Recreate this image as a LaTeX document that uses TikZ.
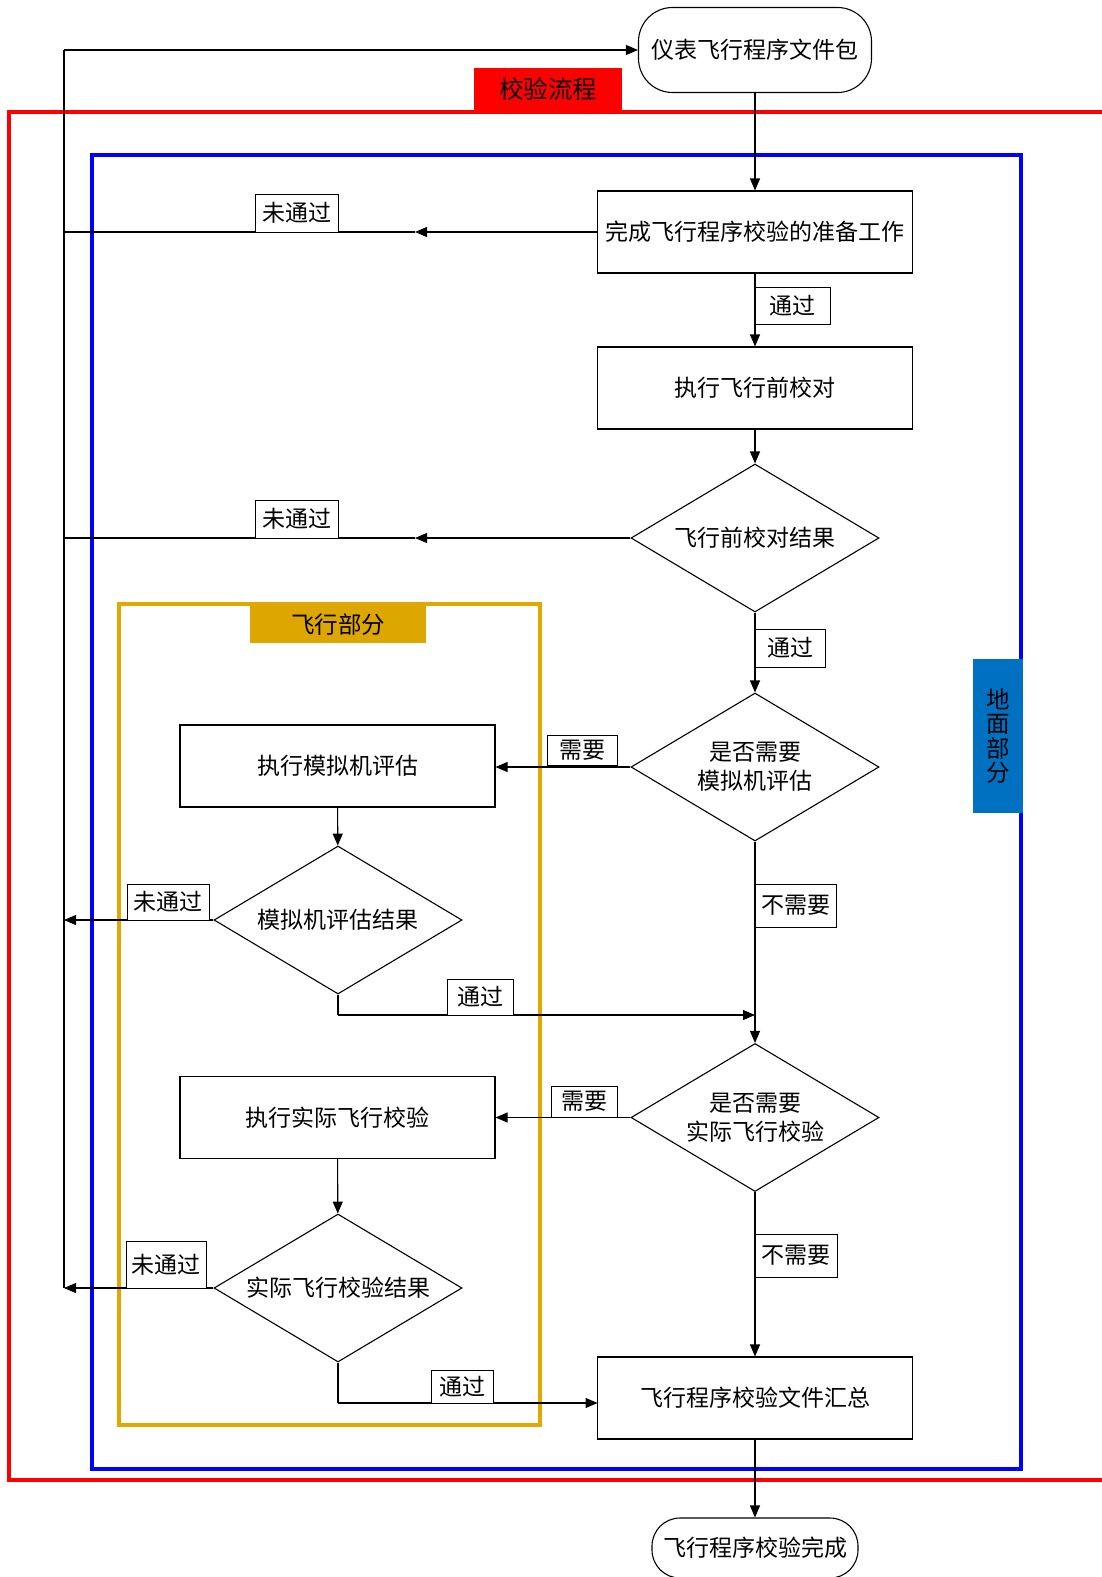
\documentclass[tikz,border=0pt]{standalone}
\usepackage{fontspec}
\setmainfont{Noto Sans CJK SC}
\usetikzlibrary{shapes.geometric,arrows.meta}
\definecolor{framered}{RGB}{255,0,0}
\definecolor{frameblue}{RGB}{0,0,255}
\definecolor{frameyellow}{RGB}{224,168,0}
\definecolor{labelyellow}{RGB}{221,166,0}
\definecolor{labelblue}{RGB}{0,112,192}
\tikzset{
  x=1pt, y=-1pt,
  every node/.style={font=\fontsize{23}{29}\selectfont},
  term/.style={draw, line width=1.1pt, rounded corners=34pt, minimum width=233pt, minimum height=85pt, inner sep=0pt, fill=white},
  procbox/.style={draw, line width=1.1pt, minimum width=315pt, minimum height=82pt, inner sep=0pt, fill=white},
  decide/.style={draw, diamond, line width=1.1pt, aspect=1.676, minimum width=248pt, minimum height=148pt, inner sep=0pt, fill=white, align=center},
  lab/.style={draw, line width=1pt, fill=white, inner sep=0pt, minimum height=37pt},
  arr/.style={line width=1.1pt, -{Triangle[length=12pt,width=10pt]}},
  ln/.style={line width=1.1pt},
  frame/.style={line width=4pt},
}
\begin{document}
\begin{tikzpicture}
\useasboundingbox (0,0) rectangle (1102,1577);

% frames
\draw[frame, framered] (1110,112) -- (9,112) -- (9,1480) -- (1110,1480);
\draw[frame, frameblue] (92,155) rectangle (1021,1469);
\draw[line width=3.5pt, frameyellow] (119,604) rectangle (540,1425);

% title labels
\node[fill=framered, minimum width=148pt, minimum height=43pt, inner sep=0pt, font=\fontsize{24.5}{28}\selectfont] (tRed) at (548,89.5) {校验流程};
\node[fill=labelyellow, minimum width=176pt, minimum height=37pt, inner sep=0pt, font=\fontsize{23.5}{28}\selectfont] (tYel) at (338,624.5) {飞行部分};
\node[fill=labelblue, minimum width=50pt, minimum height=154pt, inner sep=0pt, align=center, font=\fontsize{23.5}{24.5}\selectfont] (tBlue) at (998,736) {地\\面\\部\\分};

% nodes
\node[term] (start) at (755,50) {仪表飞行程序文件包};
\node[procbox] (prep) at (755,232) {完成飞行程序校验的准备工作};
\node[procbox] (pre) at (755,388) {执行飞行前校对};
\node[decide] (dpre) at (755,538) {飞行前校对结果};
\node[decide] (dsim) at (755,767) {是否需要\\模拟机评估};
\node[procbox] (sim) at (337.5,766) {执行模拟机评估};
\node[decide] (rsim) at (338,920) {模拟机评估结果};
\node[decide] (dfly) at (755,1117.5) {是否需要\\实际飞行校验};
\node[procbox] (fly) at (337.5,1117.5) {执行实际飞行校验};
\node[decide] (rfly) at (338,1288) {实际飞行校验结果};
\node[procbox] (sum) at (755,1398) {飞行程序校验文件汇总};
\node[term, minimum height=60pt, rounded corners=28pt, minimum width=206pt] (end) at (755,1548) {飞行程序校验完成};

% coordinates
\coordinate (lt) at (64,50);
\coordinate (lb) at (64,1288);
\coordinate (m1) at (415,232);
\coordinate (m1l) at (64,232);
\coordinate (m2) at (415,538);
\coordinate (m2l) at (64,538);
\coordinate (s1) at (64,920);
\coordinate (j1) at (338,1015);
\coordinate (j2) at (755,1015);
\coordinate (j3) at (338,1403);
\coordinate (j4) at (597.5,1403);

% connectors
\draw[ln] (lb) -- (lt);
\draw[arr] (lt) -- (start.west);
\draw[arr] (start) -- (prep);
\draw[arr] (prep) -- (pre);
\draw[arr] (pre) -- (dpre);
\draw[arr] (dpre) -- (dsim);
\draw[arr] (prep.west) -- (m1);
\draw[ln] (m1) -- (m1l);
\draw[arr] (dpre.west) -- (m2);
\draw[ln] (m2) -- (m2l);
\draw[arr] (dsim.west) -- (dsim.west -| sim.east);
\draw[arr] (sim) -- (rsim);
\draw[arr] (rsim.west) -- (s1);
\draw[ln] (rsim.south) -- (j1);
\draw[arr] (j1) -- (j2);
\draw[arr] (dsim) -- (dfly);
\draw[arr] (dfly.west) -- (fly.east);
\draw[arr] (fly) -- (rfly);
\draw[arr] (rfly.west) -- (lb);
\draw[ln] (rfly.south) -- (j3);
\draw[arr] (j3) -- (j4);
\draw[arr] (dfly) -- (sum);
\draw[arr] (sum) -- (end);

% connector labels
\node[lab, minimum width=83pt, minimum height=38pt] (l1) at (296.5,213) {未通过};
\node[lab, minimum width=75pt] (l2) at (792.5,305.5) {通过};
\node[lab, minimum width=83pt, minimum height=38pt] (l3) at (296.5,519) {未通过};
\node[lab, minimum width=70pt, minimum height=38pt] (l4) at (790,648) {通过};
\node[lab, minimum width=70pt, minimum height=30pt] (l5) at (582,750) {需要};
\node[lab, minimum width=81pt, minimum height=43pt] (l6) at (795.5,905.5) {不需要};
\node[lab, minimum width=82pt, minimum height=36pt] (l7) at (168,902) {未通过};
\node[lab, minimum width=66pt, minimum height=36pt] (l8) at (480,997) {通过};
\node[lab, minimum width=66pt, minimum height=31pt] (l9) at (584,1101.5) {需要};
\node[lab, minimum width=82pt, minimum height=43pt] (l10) at (796,1255.5) {不需要};
\node[lab, minimum width=80pt, minimum height=47pt] (l11) at (166,1264.5) {未通过};
\node[lab, minimum width=62pt, minimum height=33pt] (l12) at (462,1386.5) {通过};
\end{tikzpicture}
\end{document}
